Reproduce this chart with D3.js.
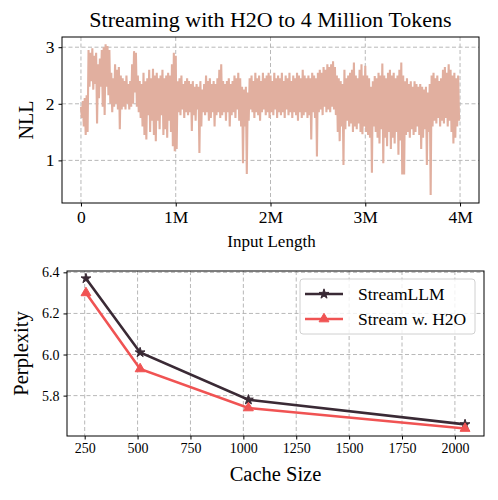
<!DOCTYPE html>
<html lang="en">
    <head>
        <meta charset="utf-8">
        <title>Streaming with H2O</title>
        <script src="https://d3js.org/d3.v7.min.js"></script>
        <style>
            body { margin: 0; background: #fff; }
            text { font-family: "Liberation Serif", "DejaVu Serif", serif; fill: #000; }
        </style>
    </head>
    <body>
        <script type="text/javascript">
            // --- top panel: NLL while streaming in 20k-token bins
            // each bin has an upper and a lower reading; the line zigzags between them
            var binSize = 20000;
            var nllHigh = [
                1.95,2.05,2.1,2.15,2.95,2.9,2.98,2.85,2.9,2.7, 2.8,2.95,3.0,3.05,3.02,2.95,2.55,2.45,2.7,2.6,
                2.65,2.5,2.45,2.4,2.5,2.35,2.4,2.7,2.93,2.9, 2.5,2.4,2.35,2.55,2.4,2.45,2.6,2.45,2.62,2.5,
                2.55,2.45,2.5,2.6,2.45,2.5,2.55,2.5,2.7,2.9,
                2.85,2.4,2.45,2.5,2.35,2.4,2.45,2.4,2.35,2.4, 2.3,2.35,2.3,2.4,2.25,2.35,2.5,2.4,2.45,2.35,
                2.4,2.35,2.45,2.6,2.7,2.4,2.35,2.4,2.45,2.35, 2.4,2.5,2.45,2.55,2.45,2.3,2.25,2.3,2.2,2.45,
                2.5,2.4,2.55,2.45,2.5,2.4,2.55,2.45,2.5,2.55,
                2.5,2.4,2.55,2.45,2.5,2.45,2.55,2.4,2.5,2.45, 2.55,2.4,2.5,2.45,2.55,2.5,2.45,2.6,2.5,2.45,
                2.5,2.45,2.55,2.5,2.45,2.55,2.6,2.55,2.65,2.6, 2.7,2.65,2.7,2.75,2.65,2.5,2.45,2.4,2.35,2.6,
                2.45,2.5,2.55,2.6,2.73,2.5,2.45,2.6,2.7,2.5,
                2.67,2.5,2.45,2.3,2.4,2.49,2.45,2.55,2.5,2.71, 2.5,2.45,2.55,2.6,2.5,2.55,2.45,2.5,2.6,2.73,
                2.5,2.4,2.45,2.35,2.4,2.3,2.4,2.35,2.3,2.35, 2.3,2.25,2.3,2.2,2.35,2.5,2.55,2.45,2.5,2.4,
                2.45,2.6,2.65,2.55,2.7,2.6,2.5,2.55,2.45,2.5
            ];
            var nllLow = [
                1.75,1.6,1.45,1.5,2.3,2.4,2.25,2.35,1.65,2.1, 2.3,1.95,1.8,2.3,2.15,2.0,1.85,1.95,2.0,1.9,
                1.55,1.9,1.95,1.9,2.0,1.9,1.95,2.0,2.2,1.95, 1.85,1.75,1.6,1.45,1.37,1.8,1.5,1.7,1.45,1.34,
                1.7,1.55,1.8,1.45,1.55,1.4,1.7,1.5,1.25,1.16,
                1.2,1.85,1.8,1.9,1.75,1.85,1.8,1.85,1.52,1.8, 1.7,1.9,1.13,1.6,1.85,1.8,1.85,1.7,1.75,1.85,
                1.6,1.8,1.85,1.75,1.8,1.85,1.7,1.85,1.6,1.8, 1.85,1.75,1.9,1.7,1.6,0.95,1.6,0.76,1.7,1.9,
                1.85,1.75,1.85,1.8,1.7,1.85,1.9,1.8,1.85,1.75,
                1.85,1.8,1.9,1.75,1.85,1.8,1.85,1.75,1.9,1.8, 1.85,1.75,1.85,1.8,1.7,1.85,1.75,1.8,1.85,1.75,
                1.8,1.37,1.85,1.75,1.07,1.85,1.9,1.8,1.95,1.85, 1.9,1.85,1.95,1.9,1.8,1.5,1.34,1.6,0.92,1.55,
                1.7,1.6,1.65,1.5,1.6,1.55,1.65,1.5,1.46,1.6,
                1.5,1.45,1.4,0.78,1.6,1.5,1.4,1.3,1.55,0.95, 1.4,1.25,1.5,1.2,1.4,1.3,1.5,1.1,1.35,0.75,
                0.75,1.45,1.5,1.4,1.55,1.45,1.5,1.6,1.45,1.2, 1.4,1.55,0.92,1.5,0.39,1.6,1.7,1.65,1.75,1.6,
                1.7,1.65,1.75,1.6,1.7,1.5,1.3,1.4,1.6,1.7
            ];
            var topXTicks = [0, 1e6, 2e6, 3e6, 4e6];
            var topXTickLabels = ["0", "1M", "2M", "3M", "4M"];
            var topYTicks = [1, 2, 3];

            // --- bottom panel: perplexity vs cache size
            var cacheSizes = [256, 512, 1024, 2048];
            var streamLLM = [6.37, 6.01, 5.78, 5.66];
            var streamH2O = [6.30, 5.93, 5.74, 5.64];
            var bottomXTicks = [250, 500, 750, 1000, 1250, 1500, 1750, 2000];
            var bottomYTicks = [5.8, 6.0, 6.2, 6.4];
            var seriesNames = ["StreamLLM", "Stream w. H2O"];

            var W = 498, H = 500;
            var svg = d3.select("body").append("svg")
                        .attr("width", W)
                        .attr("height", H);

            var gridColor = "#b0b0b0";

            // --------------- top panel
            var upper = {left: 62, right: 479, top: 37, bottom: 203};
            var xTop = d3.scaleLinear().domain([-0.2e6, 4.2e6]).range([upper.left, upper.right]);
            var yTop = d3.scaleLinear().domain([0.247, 3.18]).range([upper.bottom, upper.top]);

            var gTop = svg.append("g");

            // grid
            gTop.selectAll("line.gx").data(topXTicks).enter().append("line")
                .attr("x1", function(d){return xTop(d);}).attr("x2", function(d){return xTop(d);})
                .attr("y1", upper.top).attr("y2", upper.bottom)
                .attr("stroke", gridColor).attr("stroke-width", 0.9).attr("stroke-dasharray", "4,2.5");
            gTop.selectAll("line.gy").data(topYTicks).enter().append("line")
                .attr("y1", function(d){return yTop(d);}).attr("y2", function(d){return yTop(d);})
                .attr("x1", upper.left).attr("x2", upper.right)
                .attr("stroke", gridColor).attr("stroke-width", 0.9).attr("stroke-dasharray", "4,2.5");

            // zigzag the high/low readings into one line
            var nllPoints = [];
            nllHigh.forEach(function(h, i) {
                nllPoints.push([i * binSize, h]);
                nllPoints.push([i * binSize + binSize / 2, nllLow[i]]);
            });
            gTop.append("path")
                .datum(nllPoints)
                .attr("fill", "none")
                .attr("stroke", "#e1af9f")
                .attr("stroke-width", 2.1)
                .attr("stroke-linejoin", "bevel")
                .attr("d", d3.line().x(function(d){return xTop(d[0]);}).y(function(d){return yTop(d[1]);}));

            // axes
            var axTopX = gTop.append("g").attr("transform", "translate(0," + upper.bottom + ")")
                .call(d3.axisBottom(xTop).tickValues(topXTicks)
                        .tickFormat(function(d, i){return topXTickLabels[i];})
                        .tickSize(3.5).tickPadding(4));
            var axTopY = gTop.append("g").attr("transform", "translate(" + upper.left + ",0)")
                .call(d3.axisLeft(yTop).tickValues(topYTicks).tickFormat(d3.format("d"))
                        .tickSize(3.5).tickPadding(4));
            [axTopX, axTopY].forEach(function(a) {
                a.select(".domain").remove();
                a.selectAll("text").style("font-size", "17.5px").style("font-family", "Liberation Serif");
                a.selectAll("line").attr("stroke", "#000");
            });
            gTop.append("rect")
                .attr("x", upper.left).attr("y", upper.top)
                .attr("width", upper.right - upper.left).attr("height", upper.bottom - upper.top)
                .attr("fill", "none").attr("stroke", "#000").attr("stroke-width", 1);

            gTop.append("text")
                .attr("x", (upper.left + upper.right) / 2).attr("y", 27)
                .attr("text-anchor", "middle").style("font-size", "22px")
                .text("Streaming with H2O to 4 Million Tokens");
            gTop.append("text")
                .attr("x", (upper.left + upper.right) / 2 + 1).attr("y", 247)
                .attr("text-anchor", "middle").style("font-size", "17px")
                .text("Input Length");
            gTop.append("text")
                .attr("transform", "translate(33," + ((upper.top + upper.bottom) / 2) + ") rotate(-90)")
                .attr("text-anchor", "middle").style("font-size", "20px")
                .text("NLL");

            // --------------- bottom panel
            var lower = {left: 67, right: 484, top: 271, bottom: 436};
            var xBot = d3.scaleLinear().domain([166.4, 2137.6]).range([lower.left, lower.right]);
            var yBot = d3.scaleLinear().domain([5.6035, 6.4065]).range([lower.bottom, lower.top]);

            var gBot = svg.append("g");

            gBot.selectAll("line.gx").data(bottomXTicks).enter().append("line")
                .attr("x1", function(d){return xBot(d);}).attr("x2", function(d){return xBot(d);})
                .attr("y1", lower.top).attr("y2", lower.bottom)
                .attr("stroke", gridColor).attr("stroke-width", 0.9).attr("stroke-dasharray", "4,2.5");
            gBot.selectAll("line.gy").data(bottomYTicks).enter().append("line")
                .attr("y1", function(d){return yBot(d);}).attr("y2", function(d){return yBot(d);})
                .attr("x1", lower.left).attr("x2", lower.right)
                .attr("stroke", gridColor).attr("stroke-width", 0.9).attr("stroke-dasharray", "4,2.5");

            var series = [
                {name: seriesNames[0], values: streamLLM, color: "#3a2a35", symbol: d3.symbolStar, size: 30},
                {name: seriesNames[1], values: streamH2O, color: "#f05353", symbol: d3.symbolTriangle, size: 42}
            ];
            var line = d3.line()
                .x(function(d){return xBot(d[0]);})
                .y(function(d){return yBot(d[1]);});

            series.forEach(function(s) {
                var pts = cacheSizes.map(function(c, i){return [c, s.values[i]];});
                gBot.append("path")
                    .datum(pts)
                    .attr("fill", "none")
                    .attr("stroke", s.color)
                    .attr("stroke-width", 2.6)
                    .attr("d", line);
                gBot.selectAll(null).data(pts).enter().append("path")
                    .attr("transform", function(d){return "translate(" + xBot(d[0]) + "," + yBot(d[1]) + ")";})
                    .attr("d", d3.symbol().type(s.symbol).size(s.size))
                    .attr("fill", s.color)
                    .attr("stroke", s.color)
                    .attr("stroke-width", 1);
            });

            var axBotX = gBot.append("g").attr("transform", "translate(0," + lower.bottom + ")")
                .call(d3.axisBottom(xBot).tickValues(bottomXTicks).tickFormat(d3.format("d"))
                        .tickSize(3.5).tickPadding(4));
            var axBotY = gBot.append("g").attr("transform", "translate(" + lower.left + ",0)")
                .call(d3.axisLeft(yBot).tickValues(bottomYTicks).tickFormat(d3.format(".1f"))
                        .tickSize(3.5).tickPadding(4));
            [axBotX, axBotY].forEach(function(a) {
                a.select(".domain").remove();
                a.selectAll("text").style("font-size", "14px").style("font-family", "Liberation Serif");
                a.selectAll("line").attr("stroke", "#000");
            });
            gBot.append("rect")
                .attr("x", lower.left).attr("y", lower.top)
                .attr("width", lower.right - lower.left).attr("height", lower.bottom - lower.top)
                .attr("fill", "none").attr("stroke", "#000").attr("stroke-width", 1);

            gBot.append("text")
                .attr("x", (lower.left + lower.right) / 2).attr("y", 481)
                .attr("text-anchor", "middle").style("font-size", "20.5px")
                .text("Cache Size");
            gBot.append("text")
                .attr("transform", "translate(28," + ((lower.top + lower.bottom) / 2) + ") rotate(-90)")
                .attr("text-anchor", "middle").style("font-size", "20.5px")
                .text("Perplexity");

            // legend
            var lg = gBot.append("g").attr("transform", "translate(300,279)");
            lg.append("rect")
                .attr("width", 175).attr("height", 55).attr("rx", 3)
                .attr("fill", "#fff").attr("fill-opacity", 0.8)
                .attr("stroke", "#d0d0d0").attr("stroke-width", 1);
            series.forEach(function(s, i) {
                var yy = 15 + i * 25;
                lg.append("line").attr("x1", 5).attr("x2", 43).attr("y1", yy).attr("y2", yy)
                    .attr("stroke", s.color).attr("stroke-width", 2.6);
                lg.append("path").attr("transform", "translate(24," + yy + ")")
                    .attr("d", d3.symbol().type(s.symbol).size(s.size))
                    .attr("fill", s.color).attr("stroke", s.color).attr("stroke-width", 1);
                lg.append("text").attr("x", 58).attr("y", yy).attr("dy", "0.35em")
                    .style("font-size", "17.5px").text(s.name);
            });
        </script>
    </body>
</html>
